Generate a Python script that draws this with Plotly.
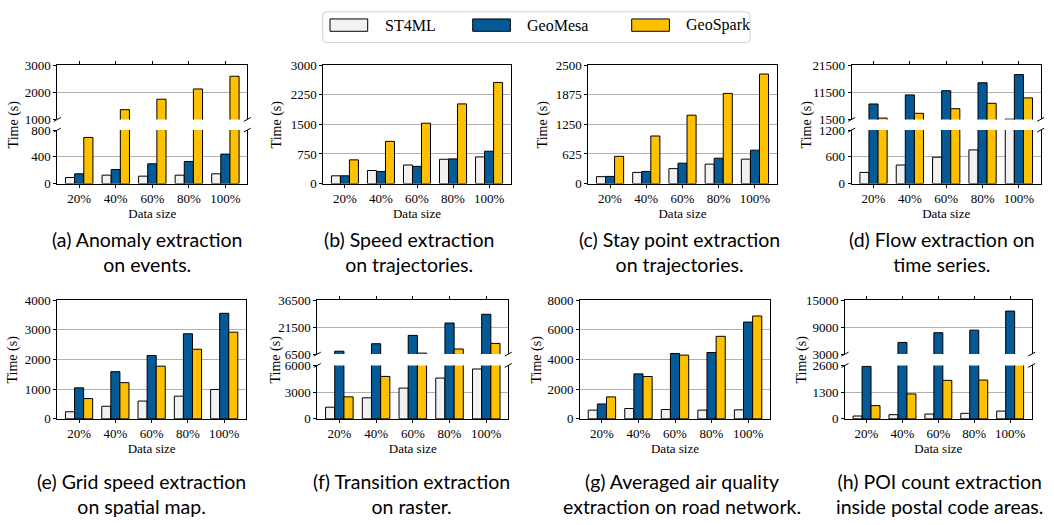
import plotly.graph_objects as go

W, H = 1054, 525

categories = ["20%", "40%", "60%", "80%", "100%"]
systems = ["ST4ML", "GeoMesa", "GeoSpark"]
system_colors = ["#f2f2f2", "#045a97", "#ffc000"]

# (a) Anomaly extraction on events
a_st4ml = [90, 125, 110, 125, 145]
a_geomesa = [145, 210, 295, 330, 440]
a_geospark = [690, 1360, 1745, 2125, 2595]
# (b) Speed extraction on trajectories
b_st4ml = [195, 330, 470, 615, 675]
b_geomesa = [195, 305, 435, 625, 820]
b_geospark = [600, 1070, 1530, 2020, 2565]
# (c) Stay point extraction on trajectories
c_st4ml = [145, 235, 315, 410, 515]
c_geomesa = [150, 255, 430, 535, 705]
c_geospark = [575, 1005, 1445, 1905, 2315]
# (d) Flow extraction on time series
d_st4ml = [250, 415, 590, 755, 1600]
d_geomesa = [7200, 10550, 12100, 15050, 18050]
d_geospark = [2000, 3750, 5450, 7450, 9450]
# (e) Grid speed extraction on spatial map
e_st4ml = [240, 425, 600, 765, 990]
e_geomesa = [1045, 1590, 2135, 2865, 3555]
e_geospark = [685, 1220, 1775, 2345, 2920]
# (f) Transition extraction on raster
f_st4ml = [1310, 2365, 3460, 4585, 5605]
f_geomesa = [8100, 12250, 16900, 23750, 28600]
f_geospark = [2475, 4770, 7050, 9350, 12450]
# (g) Averaged air quality extraction on road network
g_st4ml = [590, 700, 630, 590, 610]
g_geomesa = [1005, 3030, 4405, 4470, 6520]
g_geospark = [1480, 2855, 4295, 5560, 6930]
# (h) POI count extraction inside postal code areas
h_st4ml = [140, 205, 235, 270, 380]
h_geomesa = [2555, 5590, 7745, 8320, 12555]
h_geospark = [645, 1215, 1875, 1890, 2650]

captions = [
    "(a) Anomaly extraction<br>on events.",
    "(b) Speed extraction<br>on trajectories.",
    "(c) Stay point extraction<br>on trajectories.",
    "(d) Flow extraction on<br>time series.",
    "(e) Grid speed extraction<br>on spatial map.",
    "(f) Transition extraction<br>on raster.",
    "(g) Averaged air quality<br>extraction on road network.",
    "(h) POI count extraction<br>inside postal code areas.",
]

SERIF = "Liberation Serif, Times New Roman, serif"
SANS = "Lato, Noto Sans, sans-serif"


def px(x):
    return x / W


def py(y):
    return 1 - y / H


rows = [
    dict(top=60, bot=181.7, brk_hi=115.7, brk_lo=126.7, cap=252),
    dict(top=301.7, bot=424, brk_hi=357.3, brk_lo=369, cap=501),
]

panels = [
    dict(data=(a_st4ml, a_geomesa, a_geospark), row=0, x=(57.3, 247.3), ytitle=14, capx=147,
         low=(0, 800, [0, 400, 800]), high=(1000, 3000, [1000, 2000, 3000])),
    dict(data=(b_st4ml, b_geomesa, b_geospark), row=0, x=(323.3, 510.7), ytitle=277, capx=409,
         single=(0, 3000, [0, 750, 1500, 2250, 3000])),
    dict(data=(c_st4ml, c_geomesa, c_geospark), row=0, x=(588.3, 776.7), ytitle=543, capx=679,
         single=(0, 2500, [0, 625, 1250, 1875, 2500])),
    dict(data=(d_st4ml, d_geomesa, d_geospark), row=0, x=(851.7, 1040.7), ytitle=807, capx=942,
         low=(0, 1200, [0, 600, 1200]), high=(1500, 21500, [1500, 11500, 21500])),
    dict(data=(e_st4ml, e_geomesa, e_geospark), row=1, x=(57.3, 246), ytitle=13, capx=141,
         single=(0, 4000, [0, 1000, 2000, 3000, 4000])),
    dict(data=(f_st4ml, f_geomesa, f_geospark), row=1, x=(317.3, 508.3), ytitle=276, capx=411,
         low=(0, 6000, [0, 3000, 6000]), high=(6500, 36500, [6500, 21500, 36500])),
    dict(data=(g_st4ml, g_geomesa, g_geospark), row=1, x=(580, 770), ytitle=537, capx=682,
         single=(0, 8000, [0, 2000, 4000, 6000, 8000])),
    dict(data=(h_st4ml, h_geomesa, h_geospark), row=1, x=(845, 1031.7), ytitle=802, capx=939,
         low=(0, 2600, [0, 1300, 2600]), high=(3000, 15000, [3000, 9000, 15000])),
]

fig = go.Figure()
layout = {}
shapes = []
annotations = []
n = 0

tickfont = dict(family=SERIF, size=13, color="black")


def add_segment(p, yr, ydom, kind):
    """kind: 'single', 'low', 'high'"""
    global n
    n += 1
    xa = "xaxis" if n == 1 else f"xaxis{n}"
    ya = "yaxis" if n == 1 else f"yaxis{n}"
    xref = "x" if n == 1 else f"x{n}"
    yref = "y" if n == 1 else f"y{n}"
    for vals, name, col in zip(p["data"], systems, system_colors):
        fig.add_trace(go.Bar(
            x=categories, y=vals, name=name, xaxis=xref, yaxis=yref,
            marker=dict(color=col, line=dict(color="black", width=1)),
            showlegend=False,
        ))
    xd = [px(p["x"][0]), px(p["x"][1])]
    xcfg = dict(domain=xd, anchor=yref, type="category", range=[-0.6, 4.6],
                showline=True, linecolor="black", linewidth=1, showgrid=False,
                zeroline=False, ticks="outside", ticklen=3, tickcolor="black",
                tickfont=tickfont, fixedrange=True)
    if kind == "high":
        xcfg.update(side="top", showticklabels=False, mirror=False)
    else:
        xcfg.update(side="bottom", mirror=(kind == "single"),
                    title=dict(text="Data size", font=dict(family=SERIF, size=13, color="black"),
                               standoff=3))
    ycfg = dict(domain=ydom, anchor=xref, range=[yr[0], yr[1]], tickvals=yr[2],
                ticktext=[str(v) for v in yr[2]],
                showline=True, mirror=True, linecolor="black", linewidth=1,
                ticks="outside", ticklen=3, tickcolor="black", tickfont=tickfont,
                showgrid=True, gridcolor="#b0b0b0", gridwidth=1, zeroline=False,
                fixedrange=True)
    layout[xa] = xcfg
    layout[ya] = ycfg


for p in panels:
    r = rows[p["row"]]
    if "single" in p:
        add_segment(p, p["single"], [py(r["bot"]), py(r["top"])], "single")
    else:
        add_segment(p, p["low"], [py(r["bot"]), py(r["brk_lo"])], "low")
        add_segment(p, p["high"], [py(r["brk_hi"]), py(r["top"])], "high")
        # break markers
        for xe in p["x"]:
            for ye in (r["brk_hi"], r["brk_lo"]):
                shapes.append(dict(type="line", xref="paper", yref="paper",
                                   x0=px(xe - 3.5), y0=py(ye + 2), x1=px(xe + 3.5), y1=py(ye - 2),
                                   line=dict(color="black", width=1)))
    # y title
    annotations.append(dict(text="Time (s)", textangle=-90, xref="paper", yref="paper",
                            x=px(p["ytitle"]), y=py((r["top"] + r["bot"]) / 2),
                            xanchor="center", yanchor="middle", showarrow=False,
                            font=dict(family=SERIF, size=14, color="black")))

for p, cap in zip(panels, captions):
    r = rows[p["row"]]
    annotations.append(dict(text=cap, xref="paper", yref="paper", x=px(p["capx"]),
                            y=py(r["cap"]), xanchor="center", yanchor="middle",
                            showarrow=False, align="center",
                            font=dict(family=SANS, size=19.5, color="black")))

# manual legend
lx0, lx1, ly0, ly1, rad = 322.7, 750, 5, 36.7, 4
path = (f"M {px(lx0+rad)},{py(ly0)} L {px(lx1-rad)},{py(ly0)} Q {px(lx1)},{py(ly0)} {px(lx1)},{py(ly0+rad)} "
        f"L {px(lx1)},{py(ly1-rad)} Q {px(lx1)},{py(ly1)} {px(lx1-rad)},{py(ly1)} "
        f"L {px(lx0+rad)},{py(ly1)} Q {px(lx0)},{py(ly1)} {px(lx0)},{py(ly1-rad)} "
        f"L {px(lx0)},{py(ly0+rad)} Q {px(lx0)},{py(ly0)} {px(lx0+rad)},{py(ly0)} Z")
shapes.append(dict(type="path", xref="paper", yref="paper", path=path,
                   line=dict(color="#d0d0d0", width=1), fillcolor="white"))
swatch_x = [330, 472.7, 631.7]
text_x = [382.7, 525, 684]
for sx, tx, name, col in zip(swatch_x, text_x, systems, system_colors):
    shapes.append(dict(type="rect", xref="paper", yref="paper",
                       x0=px(sx), x1=px(sx + 37.7), y0=py(25), y1=py(12.3),
                       fillcolor=col, line=dict(color="black", width=1)))
    annotations.append(dict(text=name, xref="paper", yref="paper", x=px(tx), y=py(19),
                            xanchor="left", yanchor="middle", showarrow=False,
                            font=dict(family=SERIF, size=16, color="black")))

fig.update_layout(
    width=W, height=H, margin=dict(l=0, r=0, t=0, b=0),
    paper_bgcolor="white", plot_bgcolor="white",
    barmode="group", bargap=0.25, bargroupgap=0,
    showlegend=False, shapes=shapes, annotations=annotations,
    font=dict(family=SERIF, color="black"),
    **layout,
)

fig.write_html(
    "out.html",
    config={"displayModeBar": False, "staticPlot": True},
    post_script="document.body.style.margin='0';document.documentElement.style.overflow='hidden';",
)
